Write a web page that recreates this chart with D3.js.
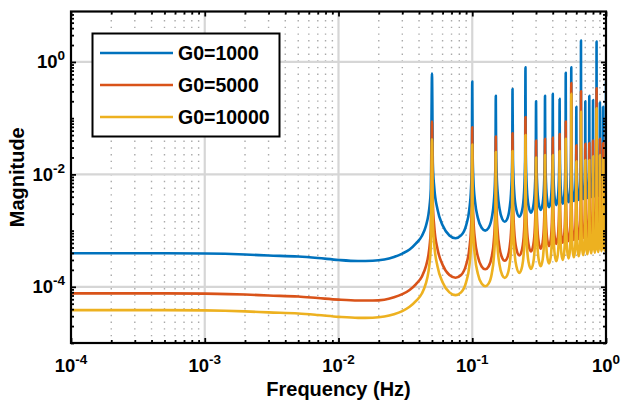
<!DOCTYPE html>
<html>
<head>
<meta charset="utf-8">
<script src="https://cdn.jsdelivr.net/npm/d3@7"></script>
<style>
  body { margin: 0; background: #fff; }
  svg { display: block; }
  text { font-family: "Liberation Sans", Arial, sans-serif; font-weight: bold; fill: #000; }
</style>
</head>
<body>
<div id="chart"></div>
<script>
// ---- data (Hz, magnitude) ----
const seriesNames = ["G0=1000", "G0=5000", "G0=10000"];
const seriesColors = ["#0072BD", "#D95319", "#EDB120"];

// flat low-frequency part, up to the first resonance
const lowFreq = [1e-4, 2e-4, 5e-4, 1e-3, 2e-3, 3e-3, 5e-3, 7e-3, 0.01, 0.014, 0.018,
  0.022, 0.026, 0.03, 0.034, 0.038, 0.042, 0.045, 0.047, 0.048, 0.049, 0.04925];
const lowG1000 = [3.95e-4, 3.95e-4, 3.94e-4, 3.9e-4, 3.75e-4, 3.6e-4, 3.45e-4, 3.25e-4, 3.0e-4, 2.88e-4, 2.9e-4,
  3.05e-4, 3.4e-4, 3.9e-4, 4.6e-4, 5.9e-4, 8.0e-4, 1.2e-3, 1.9e-3, 2.8e-3, 5.5e-3, 1.1e-2];
const lowG5000 = [7.65e-5, 7.65e-5, 7.63e-5, 7.55e-5, 7.3e-5, 7.0e-5, 6.7e-5, 6.3e-5, 5.9e-5, 5.7e-5, 5.7e-5,
  5.9e-5, 6.5e-5, 7.4e-5, 8.8e-5, 1.12e-4, 1.52e-4, 2.3e-4, 3.65e-4, 5.4e-4, 1.07e-3, 2.1e-3];
const lowG10000 = [3.85e-5, 3.85e-5, 3.84e-5, 3.8e-5, 3.65e-5, 3.5e-5, 3.35e-5, 3.15e-5, 2.92e-5, 2.8e-5, 2.82e-5,
  2.95e-5, 3.25e-5, 3.7e-5, 4.4e-5, 5.6e-5, 7.6e-5, 1.15e-4, 1.82e-4, 2.7e-4, 5.3e-4, 1.05e-3];

// resonance peaks
const peakFreq = [0.05, 0.1, 0.15, 0.2, 0.25, 0.3, 0.35, 0.4, 0.45, 0.5,
  0.55, 0.6, 0.65, 0.7, 0.75, 0.8, 0.85, 0.9, 0.95, 1.0];
const peakG1000 = [0.62, 0.45, 0.25, 0.33, 0.80, 0.20, 0.25, 0.27, 0.22, 0.64,
  0.80, 0.16, 2.4, 0.20, 0.25, 0.21, 2.3, 0.19, 0.16, 0.45];
const peakG5000 = [0.087, 0.069, 0.047, 0.054, 0.105, 0.040, 0.043, 0.045, 0.052, 0.087,
  0.42, 0.033, 0.30, 0.035, 0.036, 0.040, 0.34, 0.043, 0.036, 0.071];
const peakG10000 = [0.042, 0.034, 0.025, 0.026, 0.050, 0.020, 0.022, 0.022, 0.026, 0.043,
  0.27, 0.017, 0.13, 0.018, 0.018, 0.021, 0.15, 0.022, 0.019, 0.034];

// points between neighbouring peaks (one row per gap)
const innerFreq = [
  [0.05075, 0.052, 0.055, 0.06, 0.0675, 0.075, 0.0825, 0.09, 0.095, 0.098, 0.09925],
  [0.10075, 0.102, 0.105, 0.11, 0.1175, 0.125, 0.1325, 0.14, 0.145, 0.148, 0.14925],
  [0.15075, 0.152, 0.155, 0.16, 0.1675, 0.175, 0.1825, 0.19, 0.195, 0.198, 0.19925],
  [0.2015, 0.206, 0.214, 0.225, 0.236, 0.244, 0.2485],
  [0.2515, 0.256, 0.264, 0.275, 0.286, 0.294, 0.2985],
  [0.3015, 0.306, 0.314, 0.325, 0.336, 0.344, 0.3485],
  [0.3515, 0.356, 0.364, 0.375, 0.386, 0.394, 0.3985],
  [0.4015, 0.406, 0.414, 0.425, 0.436, 0.444, 0.4485],
  [0.4515, 0.456, 0.464, 0.475, 0.486, 0.494, 0.4985],
  [0.5015, 0.506, 0.514, 0.525, 0.536, 0.544, 0.5485],
  [0.5515, 0.556, 0.564, 0.575, 0.586, 0.594, 0.5985],
  [0.6015, 0.606, 0.614, 0.625, 0.636, 0.644, 0.6485],
  [0.6515, 0.656, 0.664, 0.675, 0.686, 0.694, 0.6985],
  [0.7015, 0.706, 0.714, 0.725, 0.736, 0.744, 0.7485],
  [0.7515, 0.756, 0.764, 0.775, 0.786, 0.794, 0.7985],
  [0.8015, 0.806, 0.814, 0.825, 0.836, 0.844, 0.8485],
  [0.8515, 0.856, 0.864, 0.875, 0.886, 0.894, 0.8985],
  [0.9015, 0.906, 0.914, 0.925, 0.936, 0.944, 0.9485],
  [0.9515, 0.956, 0.964, 0.975, 0.986, 0.994, 0.9985]
];
const innerG1000 = [
  [1.55e-2, 5.8e-3, 2.37e-3, 1.24e-3, 8.2e-4, 7.3e-4, 8.2e-4, 1.24e-3, 2.37e-3, 5.8e-3, 1.55e-2],
  [2.12e-2, 8.0e-3, 3.24e-3, 1.7e-3, 1.12e-3, 1.0e-3, 1.12e-3, 1.7e-3, 3.24e-3, 8.0e-3, 2.12e-2],
  [3.05e-2, 1.15e-2, 4.67e-3, 2.45e-3, 1.61e-3, 1.44e-3, 1.61e-3, 2.45e-3, 4.67e-3, 1.15e-2, 3.05e-2],
  [1.88e-2, 4.8e-3, 2.3e-3, 1.77e-3, 2.3e-3, 4.8e-3, 1.88e-2],
  [2.2e-2, 5.64e-3, 2.7e-3, 2.08e-3, 2.7e-3, 5.64e-3, 2.2e-2],
  [2.47e-2, 6.31e-3, 3.03e-3, 2.33e-3, 3.03e-3, 6.31e-3, 2.47e-2],
  [2.76e-2, 7.05e-3, 3.38e-3, 2.6e-3, 3.38e-3, 7.05e-3, 2.76e-2],
  [3.01e-2, 7.7e-3, 3.69e-3, 2.84e-3, 3.69e-3, 7.7e-3, 3.01e-2],
  [3.18e-2, 8.13e-3, 3.9e-3, 3.0e-3, 3.9e-3, 8.13e-3, 3.18e-2],
  [3.39e-2, 8.67e-3, 4.16e-3, 3.2e-3, 4.16e-3, 8.67e-3, 3.39e-2],
  [3.55e-2, 9.08e-3, 4.36e-3, 3.35e-3, 4.36e-3, 9.08e-3, 3.55e-2],
  [3.71e-2, 9.49e-3, 4.55e-3, 3.5e-3, 4.55e-3, 9.49e-3, 3.71e-2],
  [3.87e-2, 9.89e-3, 4.75e-3, 3.65e-3, 4.75e-3, 9.89e-3, 3.87e-2],
  [4.03e-2, 1.03e-2, 4.94e-3, 3.8e-3, 4.94e-3, 1.03e-2, 4.03e-2],
  [4.19e-2, 1.07e-2, 5.14e-3, 3.95e-3, 5.14e-3, 1.07e-2, 4.19e-2],
  [4.29e-2, 1.1e-2, 5.27e-3, 4.05e-3, 5.27e-3, 1.1e-2, 4.29e-2],
  [4.4e-2, 1.12e-2, 5.4e-3, 4.15e-3, 5.4e-3, 1.12e-2, 4.4e-2],
  [4.56e-2, 1.17e-2, 5.59e-3, 4.3e-3, 5.59e-3, 1.17e-2, 4.56e-2],
  [4.66e-2, 1.19e-2, 5.72e-3, 4.4e-3, 5.72e-3, 1.19e-2, 4.66e-2]
];
const innerG5000 = [
  [3.07e-3, 1.16e-3, 4.7e-4, 2.47e-4, 1.62e-4, 1.45e-4, 1.62e-4, 2.47e-4, 4.7e-4, 1.16e-3, 3.07e-3],
  [4.35e-3, 1.64e-3, 6.64e-4, 3.49e-4, 2.3e-4, 2.05e-4, 2.3e-4, 3.49e-4, 6.64e-4, 1.64e-3, 4.35e-3],
  [6.15e-3, 2.31e-3, 9.4e-4, 4.93e-4, 3.25e-4, 2.9e-4, 3.25e-4, 4.93e-4, 9.4e-4, 2.31e-3, 6.15e-3],
  [3.82e-3, 9.76e-4, 4.68e-4, 3.6e-4, 4.68e-4, 9.76e-4, 3.82e-3],
  [4.5e-3, 1.15e-3, 5.53e-4, 4.25e-4, 5.53e-4, 1.15e-3, 4.5e-3],
  [5.04e-3, 1.29e-3, 6.18e-4, 4.75e-4, 6.18e-4, 1.29e-3, 5.04e-3],
  [5.62e-3, 1.44e-3, 6.89e-4, 5.3e-4, 6.89e-4, 1.44e-3, 5.62e-3],
  [6.15e-3, 1.57e-3, 7.54e-4, 5.8e-4, 7.54e-4, 1.57e-3, 6.15e-3],
  [6.47e-3, 1.65e-3, 7.93e-4, 6.1e-4, 7.93e-4, 1.65e-3, 6.47e-3],
  [6.89e-3, 1.76e-3, 8.45e-4, 6.5e-4, 8.45e-4, 1.76e-3, 6.89e-3],
  [7.21e-3, 1.84e-3, 8.84e-4, 6.8e-4, 8.84e-4, 1.84e-3, 7.21e-3],
  [7.53e-3, 1.92e-3, 9.23e-4, 7.1e-4, 9.23e-4, 1.92e-3, 7.53e-3],
  [7.84e-3, 2.01e-3, 9.62e-4, 7.4e-4, 9.62e-4, 2.01e-3, 7.84e-3],
  [8.16e-3, 2.09e-3, 1.0e-3, 7.7e-4, 1.0e-3, 2.09e-3, 8.16e-3],
  [8.48e-3, 2.17e-3, 1.04e-3, 8.0e-4, 1.04e-3, 2.17e-3, 8.48e-3],
  [8.75e-3, 2.24e-3, 1.07e-3, 8.25e-4, 1.07e-3, 2.24e-3, 8.75e-3],
  [8.96e-3, 2.29e-3, 1.1e-3, 8.45e-4, 1.1e-3, 2.29e-3, 8.96e-3],
  [9.28e-3, 2.37e-3, 1.14e-3, 8.75e-4, 1.14e-3, 2.37e-3, 9.28e-3],
  [9.54e-3, 2.44e-3, 1.17e-3, 9.0e-4, 1.17e-3, 2.44e-3, 9.54e-3]
];
const innerG10000 = [
  [1.5e-3, 5.67e-4, 2.3e-4, 1.21e-4, 7.95e-5, 7.1e-5, 7.95e-5, 1.21e-4, 2.3e-4, 5.67e-4, 1.5e-3],
  [2.16e-3, 8.14e-4, 3.3e-4, 1.73e-4, 1.14e-4, 1.02e-4, 1.14e-4, 1.73e-4, 3.3e-4, 8.14e-4, 2.16e-3],
  [3.05e-3, 1.15e-3, 4.67e-4, 2.45e-4, 1.61e-4, 1.44e-4, 1.61e-4, 2.45e-4, 4.67e-4, 1.15e-3, 3.05e-3],
  [1.88e-3, 4.8e-4, 2.3e-4, 1.77e-4, 2.3e-4, 4.8e-4, 1.88e-3],
  [2.2e-3, 5.64e-4, 2.7e-4, 2.08e-4, 2.7e-4, 5.64e-4, 2.2e-3],
  [2.47e-3, 6.31e-4, 3.03e-4, 2.33e-4, 3.03e-4, 6.31e-4, 2.47e-3],
  [2.76e-3, 7.05e-4, 3.38e-4, 2.6e-4, 3.38e-4, 7.05e-4, 2.76e-3],
  [3.01e-3, 7.7e-4, 3.69e-4, 2.84e-4, 3.69e-4, 7.7e-4, 3.01e-3],
  [3.18e-3, 8.13e-4, 3.9e-4, 3.0e-4, 3.9e-4, 8.13e-4, 3.18e-3],
  [3.39e-3, 8.67e-4, 4.16e-4, 3.2e-4, 4.16e-4, 8.67e-4, 3.39e-3],
  [3.55e-3, 9.08e-4, 4.36e-4, 3.35e-4, 4.36e-4, 9.08e-4, 3.55e-3],
  [3.71e-3, 9.49e-4, 4.55e-4, 3.5e-4, 4.55e-4, 9.49e-4, 3.71e-3],
  [3.87e-3, 9.89e-4, 4.75e-4, 3.65e-4, 4.75e-4, 9.89e-4, 3.87e-3],
  [4.03e-3, 1.03e-3, 4.94e-4, 3.8e-4, 4.94e-4, 1.03e-3, 4.03e-3],
  [4.19e-3, 1.07e-3, 5.14e-4, 3.95e-4, 5.14e-4, 1.07e-3, 4.19e-3],
  [4.29e-3, 1.1e-3, 5.27e-4, 4.05e-4, 5.27e-4, 1.1e-3, 4.29e-3],
  [4.4e-3, 1.12e-3, 5.4e-4, 4.15e-4, 5.4e-4, 1.12e-3, 4.4e-3],
  [4.56e-3, 1.17e-3, 5.59e-4, 4.3e-4, 5.59e-4, 1.17e-3, 4.56e-3],
  [4.66e-3, 1.19e-3, 5.72e-4, 4.4e-4, 5.72e-4, 1.19e-3, 4.66e-3]
];

// axis ticks and labels
const xTickValues = [1e-4, 1e-3, 1e-2, 1e-1, 1];
const xTickExp = ["-4", "-3", "-2", "-1", "0"];
const yTickValues = [1e-4, 1e-2, 1];
const yTickExp = ["-4", "-2", "0"];

// ---- layout ----
const W = 622, H = 406;
const plot = { left: 71, right: 606, top: 11.5, bottom: 343 };

const svg = d3.select("#chart").append("svg")
  .attr("width", W)
  .attr("height", H);

const x = d3.scaleLog().domain([1e-4, 1]).range([plot.left, plot.right]);
const y = d3.scaleLog().domain([1e-5, 7.9]).range([plot.bottom, plot.top]);

function buildSeries(low, peaks, inner) {
  const pts = [];
  lowFreq.forEach((f, i) => pts.push({ f: f, m: low[i] }));
  peakFreq.forEach((f, i) => pts.push({ f: f, m: peaks[i] }));
  innerFreq.forEach((row, r) => row.forEach((f, j) => pts.push({ f: f, m: inner[r][j] })));
  return pts.sort((a, b) => a.f - b.f);
}

const series = [
  buildSeries(lowG1000, peakG1000, innerG1000),
  buildSeries(lowG5000, peakG5000, innerG5000),
  buildSeries(lowG10000, peakG10000, innerG10000)
];

// grid: dotted minor verticals, solid major lines
const xAll = x.ticks();
const xMinor = xAll.filter(v => xTickValues.indexOf(v) < 0);

svg.append("g").selectAll("line")
  .data(xMinor)
  .enter().append("line")
  .attr("x1", d => x(d)).attr("x2", d => x(d))
  .attr("y1", plot.bottom).attr("y2", plot.top)
  .attr("stroke", "#a9a9a9")
  .attr("stroke-width", 1.4)
  .attr("stroke-dasharray", "1.4,5.3");

svg.append("g").selectAll("line")
  .data(xTickValues.slice(1, -1))
  .enter().append("line")
  .attr("x1", d => x(d)).attr("x2", d => x(d))
  .attr("y1", plot.bottom).attr("y2", plot.top)
  .attr("stroke", "#d6d6d6")
  .attr("stroke-width", 2.2);

svg.append("g").selectAll("line")
  .data(yTickValues)
  .enter().append("line")
  .attr("x1", plot.left).attr("x2", plot.right)
  .attr("y1", d => y(d)).attr("y2", d => y(d))
  .attr("stroke", "#d6d6d6")
  .attr("stroke-width", 2.2);

// curves
svg.append("clipPath").attr("id", "clip")
  .append("rect")
  .attr("x", plot.left).attr("y", plot.top)
  .attr("width", plot.right - plot.left)
  .attr("height", plot.bottom - plot.top);

const line = d3.line()
  .x(d => x(d.f))
  .y(d => y(d.m))
  .curve(d3.curveMonotoneX);

svg.append("g").attr("clip-path", "url(#clip)")
  .selectAll("path")
  .data(series)
  .enter().append("path")
  .attr("d", line)
  .attr("fill", "none")
  .attr("stroke", (d, i) => seriesColors[i])
  .attr("stroke-width", 2.6)
  .attr("stroke-linejoin", "round");

// axes (ticks pointing inward)
const yAll = y.ticks();
const major = 5, minor = 3;
function tickLen(v, majors) { return majors.indexOf(v) >= 0 ? major : minor; }

function styleAxis(g, vals, majors, sign, horiz) {
  g.select(".domain").remove();
  g.selectAll(".tick text").remove();
  g.selectAll(".tick line")
    .attr(horiz ? "y2" : "x2", d => sign * tickLen(d, majors))
    .attr("stroke", "#000")
    .attr("stroke-width", 1.8);
}

svg.append("g").attr("transform", `translate(0,${plot.bottom})`)
  .call(d3.axisBottom(x).tickValues(xAll).tickFormat(""))
  .call(g => styleAxis(g, xAll, xTickValues, -1, true));
svg.append("g").attr("transform", `translate(0,${plot.top})`)
  .call(d3.axisTop(x).tickValues(xAll).tickFormat(""))
  .call(g => styleAxis(g, xAll, xTickValues, 1, true));
svg.append("g").attr("transform", `translate(${plot.left},0)`)
  .call(d3.axisLeft(y).tickValues(yAll).tickFormat(""))
  .call(g => styleAxis(g, yAll, yTickValues, 1, false));
svg.append("g").attr("transform", `translate(${plot.right},0)`)
  .call(d3.axisRight(y).tickValues(yAll).tickFormat(""))
  .call(g => styleAxis(g, yAll, yTickValues, -1, false));

svg.append("rect")
  .attr("x", plot.left).attr("y", plot.top)
  .attr("width", plot.right - plot.left)
  .attr("height", plot.bottom - plot.top)
  .attr("fill", "none")
  .attr("stroke", "#000")
  .attr("stroke-width", 2.2);

// tick labels with superscript exponents
const xLab = svg.append("g").selectAll("text")
  .data(xTickValues)
  .enter().append("text")
  .attr("x", d => x(d))
  .attr("y", 372)
  .attr("text-anchor", "middle")
  .style("font-size", "18.5px");
xLab.append("tspan").text("10");
xLab.append("tspan").attr("dy", -8).style("font-size", "13.5px").text((d, i) => xTickExp[i]);

const yLab = svg.append("g").selectAll("text")
  .data(yTickValues)
  .enter().append("text")
  .attr("x", plot.left - 6)
  .attr("y", d => y(d) + 6.5)
  .attr("text-anchor", "end")
  .style("font-size", "18.5px");
yLab.append("tspan").text("10");
yLab.append("tspan").attr("dy", -8).style("font-size", "13.5px").text((d, i) => yTickExp[i]);

// axis titles
svg.append("text")
  .attr("x", (plot.left + plot.right) / 2)
  .attr("y", 396)
  .attr("text-anchor", "middle")
  .style("font-size", "20px")
  .text("Frequency (Hz)");

svg.append("text")
  .attr("transform", `translate(24,${(plot.top + plot.bottom) / 2}) rotate(-90)`)
  .attr("text-anchor", "middle")
  .style("font-size", "20px")
  .text("Magnitude");

// legend
const legend = svg.append("g");
legend.append("rect")
  .attr("x", 92.5).attr("y", 33.5)
  .attr("width", 187).attr("height", 103)
  .attr("fill", "#fff")
  .attr("stroke", "#000")
  .attr("stroke-width", 2);

const rows = legend.selectAll("g.row")
  .data(seriesNames)
  .enter().append("g")
  .attr("class", "row")
  .attr("transform", (d, i) => `translate(0,${53 + i * 32})`);
rows.append("line")
  .attr("x1", 100).attr("x2", 173)
  .attr("stroke", (d, i) => seriesColors[i])
  .attr("stroke-width", 2.6);
rows.append("text")
  .attr("x", 178).attr("y", 7)
  .style("font-size", "19.5px")
  .text(d => d);
</script>
</body>
</html>
